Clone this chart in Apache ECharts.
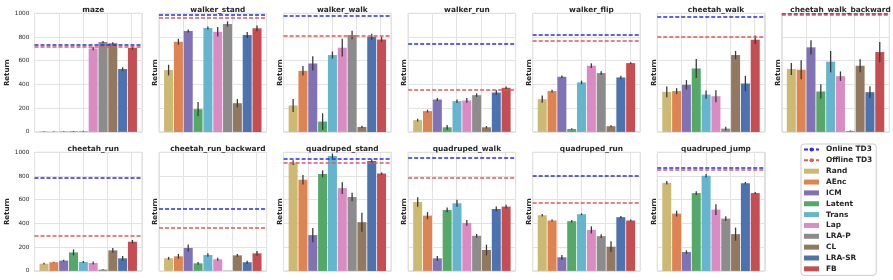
<!DOCTYPE html>
<html><head><meta charset="utf-8">
<script src="https://cdn.jsdelivr.net/npm/echarts@6/dist/echarts.min.js"></script>
<style>html,body{margin:0;padding:0;background:#fff}#c{width:893px;height:280px}</style>
</head><body><div id="c"></div><script>
const methods = ['Rand','AEnc','ICM','Latent','Trans','Lap','LRA-P','CL','LRA-SR','FB'];
const methodColors = ['#ccb974','#dd8452','#8172b3','#55a868','#64b5cd','#da8bc3','#8c8c8c','#937860','#4c72b0','#c44e52'];
const tasks = ['maze','walker_stand','walker_walk','walker_run','walker_flip','cheetah_walk','cheetah_walk_backward',
               'cheetah_run','cheetah_run_backward','quadruped_stand','quadruped_walk','quadruped_run','quadruped_jump'];
const onlineTD3  = [735, 989, 977, 744, 815, 975, 997, 785, 528, 944, 950, 802, 872];
const offlineTD3 = [720, 963, 808, 358, 767, 800, 989, 295, 363, 911, 788, 578, 849];
const yTickLabels = ['0','200','400','600','800','1000'];

const mazeMean   = [4, 2, 3, 5, 6, 704, 757, 748, 530, 708];
const mazeErr    = [2, 2, 2, 3, 3, 15, 10, 8, 15, 15];
const wStandMean = [521, 760, 851, 192, 876, 845, 910, 242, 817, 873];
const wStandErr  = [45, 25, 12, 60, 12, 40, 22, 35, 25, 25];
const wWalkMean  = [223, 515, 577, 87, 648, 710, 817, 42, 803, 780];
const wWalkErr   = [55, 40, 60, 70, 30, 75, 35, 10, 25, 20];
const wRunMean   = [99, 175, 273, 39, 259, 265, 310, 39, 332, 372];
const wRunErr    = [12, 12, 12, 20, 15, 20, 15, 10, 20, 10];
const wFlipMean  = [276, 344, 465, 25, 417, 558, 496, 48, 459, 580];
const wFlipErr   = [30, 12, 10, 5, 15, 20, 15, 8, 15, 8];
const cWalkMean  = [338, 344, 397, 535, 315, 301, 28, 648, 408, 777];
const cWalkErr   = [45, 25, 40, 80, 35, 50, 15, 35, 65, 35];
const cWalkBMean = [530, 524, 713, 341, 592, 470, 8, 558, 335, 673];
const cWalkBErr  = [50, 80, 60, 60, 90, 40, 3, 55, 50, 85];
const cRunMean   = [61, 73, 87, 156, 75, 67, 11, 173, 106, 246];
const cRunErr    = [8, 5, 8, 25, 8, 12, 3, 20, 20, 15];
const cRunBMean  = [106, 123, 193, 64, 134, 98, 2, 131, 73, 148];
const cRunBErr   = [12, 20, 30, 12, 15, 12, 0, 12, 12, 20];
const qStandMean = [913, 768, 302, 818, 969, 698, 623, 411, 927, 821];
const qStandErr  = [20, 40, 60, 30, 20, 50, 35, 80, 15, 10];
const qWalkMean  = [581, 466, 106, 514, 570, 405, 296, 176, 522, 542];
const qWalkErr   = [40, 30, 20, 20, 30, 25, 15, 45, 20, 15];
const qRunMean   = [469, 425, 115, 419, 478, 346, 293, 204, 453, 425];
const qRunErr    = [10, 8, 20, 10, 8, 30, 15, 45, 10, 8];
const qJumpMean  = [743, 483, 159, 656, 802, 517, 441, 310, 740, 656];
const qJumpErr   = [15, 25, 15, 15, 15, 45, 20, 55, 10, 10];

const means = [mazeMean, wStandMean, wWalkMean, wRunMean, wFlipMean, cWalkMean, cWalkBMean,
               cRunMean, cRunBMean, qStandMean, qWalkMean, qRunMean, qJumpMean];
const errs  = [mazeErr, wStandErr, wWalkErr, wRunErr, wFlipErr, cWalkErr, cWalkBErr,
               cRunErr, cRunBErr, qStandErr, qWalkErr, qRunErr, qJumpErr];

const FONT = 'DejaVu Sans';
const TXT = '#262626';
const GRIDC = '#e2e2e2';
const colLeft = 34.5, colStep = 124.55, panelW = 107.5;
const rowTop = [13.3, 152.3], panelH = 118.6;
const ONLINE_C = '#2b2bf2', OFFLINE_C = '#e05a5a';

const grid = [], xAxis = [], yAxis = [], series = [], title = [];
tasks.forEach((t, k) => {
  const row = k < 7 ? 0 : 1, col = k % 7;
  const left = colLeft + col * colStep, top = rowTop[row];
  grid.push({left, top, width: panelW, height: panelH, show: true, borderColor: '#d6d6d6', borderWidth: 1});
  title.push({text: t, left: left + panelW / 2, top: top - 12, textAlign: 'center',
    textStyle: {fontFamily: FONT, fontWeight: 'bold', fontSize: 7.4, color: TXT}});
  xAxis.push({gridIndex: k, type: 'value', min: -0.97, max: 9.97,
    axisLine: {show: false}, axisTick: {show: false}, axisLabel: {show: false}, splitLine: {show: false}});
  xAxis.push({gridIndex: k, type: 'value', min: 0, max: 4.43, interval: 1, position: 'top',
    axisLine: {show: false}, axisTick: {show: false}, axisLabel: {show: false},
    splitLine: {show: true, lineStyle: {color: GRIDC, width: 1}}});
  yAxis.push({gridIndex: k, type: 'value', min: 0, max: 1000, interval: 200,
    name: 'Return', nameLocation: 'middle', nameRotate: 90, nameGap: col === 0 ? 21 : 0,
    nameTextStyle: {fontFamily: FONT, fontWeight: 'bold', fontSize: 7, color: TXT},
    axisLine: {show: false}, axisTick: {show: false},
    axisLabel: {show: col === 0, fontFamily: FONT, fontSize: 5.8, color: TXT, margin: 5,
      formatter: v => yTickLabels[Math.round(v / 200)]},
    splitLine: {show: true, lineStyle: {color: GRIDC, width: 1}}});
  methods.forEach((m, i) => {
    series.push({type: 'bar', name: m, xAxisIndex: 2 * k, yAxisIndex: k,
      data: [[i, means[k][i]]], barWidth: 9, barGap: '-100%',
      itemStyle: {color: methodColors[i]}, z: 2});
  });
  series.push({type: 'custom', name: 'err' + k, xAxisIndex: 2 * k, yAxisIndex: k, z: 4,
    encode: {x: 0, y: 1},
    data: means[k].map((v, i) => [i, v, errs[k][i]]),
    renderItem: (params, api) => {
      const x = api.value(0), v = api.value(1), e = api.value(2);
      const p1 = api.coord([x, Math.max(0, v - e)]), p2 = api.coord([x, v + e]);
      return {type: 'line', shape: {x1: p1[0], y1: p1[1], x2: p2[0], y2: p2[1]},
        style: {stroke: '#3a3a3a', lineWidth: 1.3}};
    }});
  [['Online TD3', onlineTD3[k], ONLINE_C], ['Offline TD3', offlineTD3[k], OFFLINE_C]].forEach(([nm, v, c]) => {
    series.push({type: 'line', name: nm, xAxisIndex: 2 * k, yAxisIndex: k, data: [], z: 6,
      symbol: 'none', itemStyle: {color: c}, lineStyle: {color: c, type: [4, 2], width: 1.5},
      markLine: {silent: true, symbol: ['none', 'none'], label: {show: false}, animation: false,
        lineStyle: {color: c, type: [4, 2], width: 1.6}, data: [{yAxis: v}]}});
  });
});

const legendData = [
  {name: 'Online TD3'}, {name: 'Offline TD3'},
  ...methods.map(m => ({name: m, icon: 'rect'}))
];

const chart = echarts.init(document.getElementById('c'), null, {renderer: 'canvas'});
chart.setOption({
  animation: false,
  backgroundColor: '#fff',
  title, grid, xAxis, yAxis, series,
  legend: {orient: 'vertical', left: 801, top: 144, data: legendData,
    itemWidth: 15, itemHeight: 5, itemGap: 1.85, padding: [1, 4, 2, 2],
    backgroundColor: '#fff', borderColor: '#cccccc', borderWidth: 1, borderRadius: 3,
    textStyle: {fontFamily: FONT, fontWeight: 'bold', fontSize: 7.4, color: TXT, lineHeight: 9,
      padding: [0, 0, 0, 2]}}
});
</script></body></html>
